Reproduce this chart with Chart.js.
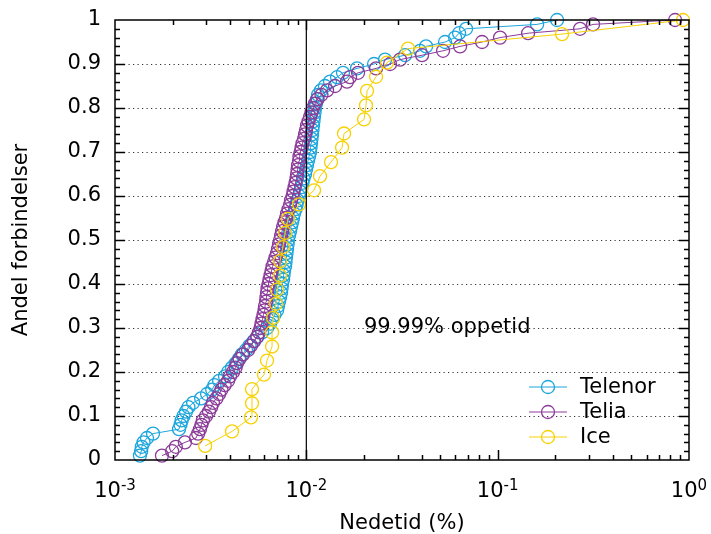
<!DOCTYPE html>
<html>
<head>
<meta charset="utf-8">
<script src="https://cdn.jsdelivr.net/npm/chart.js@4"></script>
<style>
  html, body { margin: 0; padding: 0; background: #fff; }
</style>
</head>
<body>
<canvas id="nedetidChart" width="711" height="534"></canvas>
<script>
// Andel forbindelser (y) for Telenor og Telia, 100 forbindelser hver
const andel = [
  0.01, 0.02, 0.03, 0.04, 0.05, 0.06, 0.07, 0.08, 0.09, 0.10,
  0.11, 0.12, 0.13, 0.14, 0.15, 0.16, 0.17, 0.18, 0.19, 0.20,
  0.21, 0.22, 0.23, 0.24, 0.25, 0.26, 0.27, 0.28, 0.29, 0.30,
  0.31, 0.32, 0.33, 0.34, 0.35, 0.36, 0.37, 0.38, 0.39, 0.40,
  0.41, 0.42, 0.43, 0.44, 0.45, 0.46, 0.47, 0.48, 0.49, 0.50,
  0.51, 0.52, 0.53, 0.54, 0.55, 0.56, 0.57, 0.58, 0.59, 0.60,
  0.61, 0.62, 0.63, 0.64, 0.65, 0.66, 0.67, 0.68, 0.69, 0.70,
  0.71, 0.72, 0.73, 0.74, 0.75, 0.76, 0.77, 0.78, 0.79, 0.80,
  0.81, 0.82, 0.83, 0.84, 0.85, 0.86, 0.87, 0.88, 0.89, 0.90,
  0.91, 0.92, 0.93, 0.94, 0.95, 0.96, 0.97, 0.98, 0.99, 1.00
];

// Nedetid i prosent, sortert
const telenorNedetid = [
  0.00135, 0.00137, 0.00138, 0.00141, 0.00147, 0.00158, 0.00216, 0.00220, 0.00223, 0.00228,
  0.00235, 0.00242, 0.00256, 0.00282, 0.00303, 0.00322, 0.00331, 0.00350, 0.00376, 0.00390,
  0.00409, 0.00427, 0.00445, 0.00461, 0.00484, 0.00505, 0.00530, 0.00556, 0.00587, 0.00623,
  0.00646, 0.00662, 0.00682, 0.00703, 0.00711, 0.00720, 0.00729, 0.00738, 0.00742, 0.00747,
  0.00756, 0.00760, 0.00765, 0.00774, 0.00779, 0.00783, 0.00788, 0.00793, 0.00798, 0.00802,
  0.00812, 0.00822, 0.00832, 0.00842, 0.00852, 0.00862, 0.00878, 0.00889, 0.00900, 0.00916,
  0.00927, 0.00944, 0.00955, 0.00967, 0.00985, 0.00996, 0.01008, 0.01021, 0.01033, 0.01046,
  0.01052, 0.01058, 0.01065, 0.01071, 0.01077, 0.01084, 0.01090, 0.01097, 0.01104, 0.01110,
  0.01124, 0.01137, 0.01151, 0.01193, 0.01252, 0.01330, 0.01447, 0.01555, 0.01841, 0.02259,
  0.02579, 0.03281, 0.03930, 0.04224, 0.05310, 0.05989, 0.06285, 0.06837, 0.1607, 0.2044
];

const teliaNedetid = [
  0.00176, 0.00199, 0.00208, 0.00232, 0.00265, 0.00272, 0.00278, 0.00283, 0.00288, 0.00299,
  0.00310, 0.00318, 0.00325, 0.00339, 0.00350, 0.00360, 0.00374, 0.00390, 0.00399, 0.00414,
  0.00427, 0.00434, 0.00448, 0.00467, 0.00496, 0.00514, 0.00533, 0.00553, 0.00566, 0.00576,
  0.00583, 0.00590, 0.00597, 0.00605, 0.00608, 0.00616, 0.00619, 0.00623, 0.00627, 0.00634,
  0.00642, 0.00650, 0.00658, 0.00666, 0.00678, 0.00690, 0.00703, 0.00711, 0.00720, 0.00729,
  0.00738, 0.00747, 0.00756, 0.00769, 0.00783, 0.00793, 0.00807, 0.00822, 0.00832, 0.00847,
  0.00857, 0.00868, 0.00878, 0.00889, 0.00894, 0.00900, 0.00905, 0.00916, 0.00921, 0.00933,
  0.00944, 0.00955, 0.00973, 0.00985, 0.00996, 0.01008, 0.01027, 0.01046, 0.01065, 0.01084,
  0.01110, 0.01144, 0.01200, 0.01283, 0.01413, 0.01632, 0.01692, 0.01864, 0.02314, 0.02739,
  0.03089, 0.04026, 0.05183, 0.06361, 0.08287, 0.1029, 0.1442, 0.2696, 0.3152, 0.8459
];

// Ice har 31 forbindelser
const iceAndel = [
  0.032, 0.065, 0.097, 0.129, 0.161, 0.194, 0.226, 0.258, 0.290, 0.323,
  0.355, 0.387, 0.419, 0.452, 0.484, 0.516, 0.548, 0.581, 0.613, 0.645,
  0.677, 0.710, 0.742, 0.774, 0.806, 0.839, 0.871, 0.903, 0.935, 0.968, 1.0
];
const iceNedetid = [
  0.00296, 0.00409, 0.00514, 0.00520, 0.00520, 0.00601, 0.00623, 0.00662, 0.00662, 0.00670,
  0.00694, 0.00703, 0.00729, 0.00729, 0.00755, 0.00774, 0.00802, 0.00916, 0.01097, 0.01179,
  0.01346, 0.01537, 0.01574, 0.02003, 0.0205, 0.02076, 0.02314, 0.02642, 0.0340, 0.2171, 0.93
];

// 99.99 % oppetid tilsvarer 0.01 % nedetid
const oppetidGrense = 0.01;
const oppetidTekst = "99.99% oppetid";
const tekstPunkt = { x: 0.02, y: 0.3 };

const xTicks = [0.001, 0.01, 0.1, 1];

const FONT = { family: "'DejaVu Sans', sans-serif", size: 21 };

const toPoints = (xs, ys) => xs.map((x, i) => ({ x: x, y: ys[i] }));

function serie(label, xs, ys, color, order) {
  return {
    label: label,
    data: toPoints(xs, ys),
    showLine: true,
    borderColor: color,
    borderWidth: 1,
    pointStyle: "circle",
    pointRadius: 6.5,
    pointBorderWidth: 1.3,
    pointBorderColor: color,
    pointBackgroundColor: "rgba(0,0,0,0)",
    clip: false,
    order: order,
  };
}

// Ramme, merker, stiplet rutenett, tekst og forklaring
const rammePlugin = {
  id: "ramme",
  beforeDatasetsDraw(chart) {
    const { ctx, chartArea: a, scales } = chart;
    const y = scales.y;
    ctx.save();
    ctx.strokeStyle = "#333";
    ctx.lineWidth = 1.2;
    ctx.setLineDash([1.2, 3.3]);
    y.ticks.forEach((t) => {
      if (t.value <= 0 || t.value >= 1) return;
      const py = Math.round(y.getPixelForValue(t.value)) + 0.5;
      ctx.beginPath();
      ctx.moveTo(a.left, py);
      ctx.lineTo(a.right, py);
      ctx.stroke();
    });
    ctx.restore();
  },
  afterDraw(chart) {
    const { ctx, chartArea: a, scales } = chart;
    const x = scales.x;
    const y = scales.y;
    ctx.save();
    ctx.strokeStyle = "#000";
    ctx.lineWidth = 1.5;

    // y-merker, store hver 0.1 og små hver 0.02
    for (let i = 1; i < 50; i++) {
      const len = i % 5 === 0 ? 10 : 5;
      const py = Math.round(y.getPixelForValue(i / 50)) + 0.5;
      ctx.beginPath();
      ctx.moveTo(a.left, py);
      ctx.lineTo(a.left + len, py);
      ctx.moveTo(a.right, py);
      ctx.lineTo(a.right - len, py);
      ctx.stroke();
    }

    // x-merker på hver dekade og 2..9 mellom
    for (let k = 0; k < xTicks.length - 1; k++) {
      for (let m = 1; m < 10; m++) {
        if (k === 0 && m === 1) continue;
        const len = m === 1 ? 10 : 5;
        const px = Math.round(x.getPixelForValue(xTicks[k] * m)) + 0.5;
        ctx.beginPath();
        ctx.moveTo(px, a.bottom);
        ctx.lineTo(px, a.bottom - len);
        ctx.moveTo(px, a.top);
        ctx.lineTo(px, a.top + len);
        ctx.stroke();
      }
    }

    ctx.strokeRect(a.left, a.top, a.right - a.left, a.bottom - a.top);

    // x-etiketter som 10 med hevet eksponent
    const stor = FONT.size + "px " + FONT.family;
    const liten = "15px " + FONT.family;
    ctx.fillStyle = "#000";
    ctx.textBaseline = "alphabetic";
    ctx.textAlign = "left";
    x.ticks.forEach((t) => {
      const eks = String(Math.round(Math.log10(t.value)));
      ctx.font = stor;
      const wGrunn = ctx.measureText("10").width;
      ctx.font = liten;
      const wEks = ctx.measureText(eks).width;
      const x0 = x.getPixelForValue(t.value) - (wGrunn + wEks) / 2;
      ctx.font = stor;
      ctx.fillText("10", x0, a.bottom + 37);
      ctx.font = liten;
      ctx.fillText(eks, x0 + wGrunn, a.bottom + 30);
    });

    ctx.font = stor;
    ctx.textBaseline = "middle";
    ctx.fillText(oppetidTekst, x.getPixelForValue(tekstPunkt.x), y.getPixelForValue(tekstPunkt.y));

    // forklaring nede til høyre
    const serier = chart.data.datasets.filter((d) => d.label);
    serier.forEach((d, i) => {
      const ry = a.bottom - 73 + i * 25;
      const x0 = a.right - 160;
      ctx.strokeStyle = d.borderColor;
      ctx.lineWidth = 1;
      ctx.beginPath();
      ctx.moveTo(x0, ry);
      ctx.lineTo(x0 + 38, ry);
      ctx.stroke();
      ctx.lineWidth = 1.3;
      ctx.beginPath();
      ctx.arc(x0 + 19, ry, 6.5, 0, Math.PI * 2);
      ctx.stroke();
      ctx.fillStyle = "#000";
      ctx.fillText(d.label, x0 + 51, ry + 1);
    });
    ctx.restore();
  },
};

new Chart(document.getElementById("nedetidChart"), {
  type: "scatter",
  data: {
    datasets: [
      serie("Telenor", telenorNedetid, andel, "#1ca6dc", 3),
      serie("Telia", teliaNedetid, andel, "#8b3c99", 2),
      serie("Ice", iceNedetid, iceAndel, "#f7d102", 1),
      {
        data: [{ x: oppetidGrense, y: 0 }, { x: oppetidGrense, y: 1 }],
        showLine: true,
        borderColor: "#000",
        borderWidth: 1.2,
        pointRadius: 0,
        order: 0,
      },
    ],
  },
  options: {
    responsive: false,
    animation: false,
    events: [],
    layout: { padding: { top: 20, right: 22, left: 0, bottom: 0 } },
    plugins: { legend: { display: false }, tooltip: { enabled: false } },
    scales: {
      x: {
        type: "logarithmic",
        min: 0.001,
        max: 1,
        afterBuildTicks(scale) {
          scale.ticks = xTicks.map((v) => ({ value: v }));
        },
        afterFit(scale) {
          scale.height = 74;
          scale.paddingLeft = 0;
          scale.paddingRight = 0;
        },
        grid: { display: false, drawTicks: false },
        border: { display: false },
        ticks: { display: false },
        title: {
          display: true,
          text: "Nedetid (%)",
          color: "#000",
          font: { family: FONT.family, size: 21, lineHeight: 1 },
          padding: 0,
        },
      },
      y: {
        min: 0,
        max: 1,
        afterFit(scale) {
          scale.width = 115;
          scale.paddingTop = 0;
          scale.paddingBottom = 0;
        },
        grid: { display: false, drawTicks: false },
        border: { display: false },
        ticks: {
          stepSize: 0.1,
          padding: 14,
          color: "#000",
          font: FONT,
          callback: (v) => String(Math.round(v * 10) / 10),
        },
        title: {
          display: true,
          text: "Andel forbindelser",
          color: "#000",
          font: FONT,
          padding: { top: 9, bottom: 0 },
        },
      },
    },
  },
  plugins: [rammePlugin],
});
</script>
</body>
</html>
